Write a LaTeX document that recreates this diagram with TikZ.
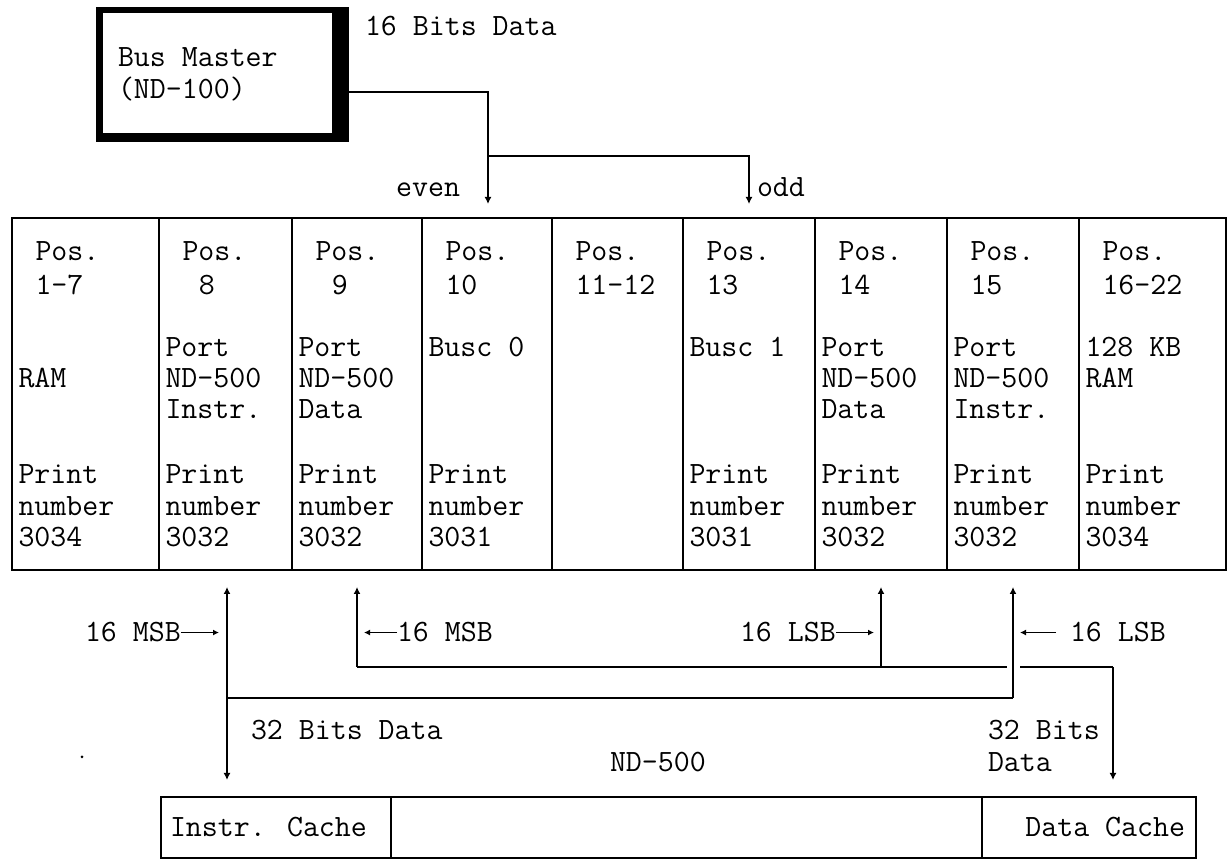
\documentclass[tikz,border=0pt]{standalone}
\usepackage{fontspec}
\usetikzlibrary{arrows.meta}
\tikzset{
  txt/.style={font=\fontsize{15.5}{18}\selectfont\ttfamily, inner sep=0pt, outer sep=0pt, anchor=base west},
  tbl/.style={line width=1pt},
  bus/.style={line width=1.3pt},
  vl/.style={line width=0.8pt},
  tip/.style={-{Latex[length=3.5pt,width=3.5pt]}},
  tipboth/.style={{Latex[length=3.5pt,width=3.5pt]}-{Latex[length=3.5pt,width=3.5pt]}},
  lbl/.style={line width=0.7pt,-{Latex[length=3pt,width=3pt]}},
}
\newcommand\tx[4]{\node[txt] (#1) at (#2,#3) {#4};}
\begin{document}
\begin{tikzpicture}[x=0.5pt,y=-0.5pt]
\useasboundingbox (0,0) rectangle (1228,860);
% Bus master box
\fill (96,7) rectangle (349,142);
\fill[white] (103,13) rectangle (332,133);
\tx{bm1}{118}{67}{Bus Master}
\tx{bm2}{118}{99}{(ND-100)}
\tx{d16}{365}{36}{16 Bits Data}
\coordinate (bmE) at (349,92);
\coordinate (j1) at (488,92);
\coordinate (j2) at (488,156);
\coordinate (j3) at (749,156);
\coordinate (evenT) at (488,204);
\coordinate (oddT) at (749,204);
\draw[bus,tip] (bmE) -- (j1) -- (evenT);
\draw[bus,tip] (j2) -- (j3) -- (oddT);
\node[txt,anchor=base east] (even) at (460,197) {even};
\tx{odd}{757}{197}{odd}
% table
\draw[tbl] (12,218) rectangle (1226,570);
\foreach \x in {159,292,422,552,683,815,947,1079} \draw[tbl] (\x,218) -- (\x,570);
% column 1
\tx{c1h1}{35.5}{261}{Pos.}
\tx{c1h2}{35.5}{295}{1-7}
\tx{c1b}{18.5}{388}{RAM}
\tx{c1p}{18.5}{484}{Print}
\tx{c1n}{18.5}{515.5}{number}
\tx{c1d}{18.5}{547}{3034}
% column 2
\tx{c2h1}{182.5}{261}{Pos.}
\tx{c2h2}{198.8}{295}{8}
\tx{c2a}{165.5}{357}{Port}
\tx{c2b}{165.5}{388}{ND-500}
\tx{c2c}{165.5}{419}{Instr.}
\tx{c2p}{165.5}{484}{Print}
\tx{c2n}{165.5}{515.5}{number}
\tx{c2d}{165.5}{547}{3032}
% column 3
\tx{c3h1}{315.5}{261}{Pos.}
\tx{c3h2}{331.8}{295}{9}
\tx{c3a}{298.5}{357}{Port}
\tx{c3b}{298.5}{388}{ND-500}
\tx{c3c}{298.5}{419}{Data}
\tx{c3p}{298.5}{484}{Print}
\tx{c3n}{298.5}{515.5}{number}
\tx{c3d}{298.5}{547}{3032}
% column 4
\tx{c4h1}{445.5}{261}{Pos.}
\tx{c4h2}{445.5}{295}{10}
\tx{c4a}{428.5}{357}{Busc 0}
\tx{c4p}{428.5}{484}{Print}
\tx{c4n}{428.5}{515.5}{number}
\tx{c4d}{428.5}{547}{3031}
% column 5
\tx{c5h1}{575.5}{261}{Pos.}
\tx{c5h2}{575.5}{295}{11-12}
% column 6
\tx{c6h1}{706.5}{261}{Pos.}
\tx{c6h2}{706.5}{295}{13}
\tx{c6a}{689.5}{357}{Busc 1}
\tx{c6p}{689.5}{484}{Print}
\tx{c6n}{689.5}{515.5}{number}
\tx{c6d}{689.5}{547}{3031}
% column 7
\tx{c7h1}{838.5}{261}{Pos.}
\tx{c7h2}{838.5}{295}{14}
\tx{c7a}{821.5}{357}{Port}
\tx{c7b}{821.5}{388}{ND-500}
\tx{c7c}{821.5}{419}{Data}
\tx{c7p}{821.5}{484}{Print}
\tx{c7n}{821.5}{515.5}{number}
\tx{c7d}{821.5}{547}{3032}
% column 8
\tx{c8h1}{970.5}{261}{Pos.}
\tx{c8h2}{970.5}{295}{15}
\tx{c8a}{953.5}{357}{Port}
\tx{c8b}{953.5}{388}{ND-500}
\tx{c8c}{953.5}{419}{Instr.}
\tx{c8p}{953.5}{484}{Print}
\tx{c8n}{953.5}{515.5}{number}
\tx{c8d}{953.5}{547}{3032}
% column 9
\tx{c9h1}{1102.5}{261}{Pos.}
\tx{c9h2}{1102.5}{295}{16-22}
\tx{c9a}{1085.5}{357}{128 KB}
\tx{c9b}{1085.5}{388}{RAM}
\tx{c9p}{1085.5}{484}{Print}
\tx{c9n}{1085.5}{515.5}{number}
\tx{c9d}{1085.5}{547}{3034}
% lower connectors
\coordinate (a1t) at (227,587);
\coordinate (a1c) at (227,698);
\coordinate (a1b) at (227,780);
\coordinate (a2t) at (357,587);
\coordinate (a2c) at (357,667);
\coordinate (g1) at (1007,667);
\coordinate (g2) at (1020,667);
\coordinate (a5c) at (1113,667);
\coordinate (a5b) at (1113,780);
\coordinate (a3t) at (881,587);
\coordinate (a3c) at (881,667);
\coordinate (a4t) at (1013,587);
\coordinate (a4c) at (1013,698);
\draw[vl,tipboth] (a1t) -- (a1b);
\draw[vl,tip] (a2c) -- (a2t);
\draw[bus] (a2c) -- (g1);
\draw[bus] (g2) -- (a5c);
\draw[vl,tip] (a5c) -- (a5b);
\draw[vl,tip] (a3c) -- (a3t);
\draw[bus] (a1c) -- (a4c);
\draw[vl,tip] (a4c) -- (a4t);
% labels with arrows
\tx{msb1}{85}{642}{16 MSB}
\coordinate (msb1e) at (219,634);
\draw[lbl] (msb1.east) -- (msb1.east -| msb1e);
\tx{msb2}{397}{642}{16 MSB}
\coordinate (msb2e) at (364,634);
\draw[lbl] (msb2.west) -- (msb2.west -| msb2e);
\tx{lsb1}{740}{642}{16 LSB}
\coordinate (lsb1e) at (874,634);
\draw[lbl] (lsb1.east) -- (lsb1.east -| lsb1e);
\tx{lsb2}{1070}{642}{16 LSB}
\coordinate (lsb2e) at (1020,634);
\draw[lbl] ([xshift=-7pt]lsb2.west) -- (lsb2.west -| lsb2e);
\tx{d32a}{251}{740}{32 Bits Data}
\tx{nd}{610}{772}{ND-500}
\tx{d32b}{988}{740}{32 Bits}
\tx{d32c}{988}{772}{Data}
\fill (82,757) circle (1.5);
% bottom box
\draw[tbl] (161,797) rectangle (1196,858);
\draw[tbl] (391,797) -- (391,858);
\draw[tbl] (982,797) -- (982,858);
\tx{ic}{170}{837}{Instr. Cache}
\node[txt,anchor=base east] (dc) at (1185,837) {Data Cache};
\end{tikzpicture}
\end{document}
